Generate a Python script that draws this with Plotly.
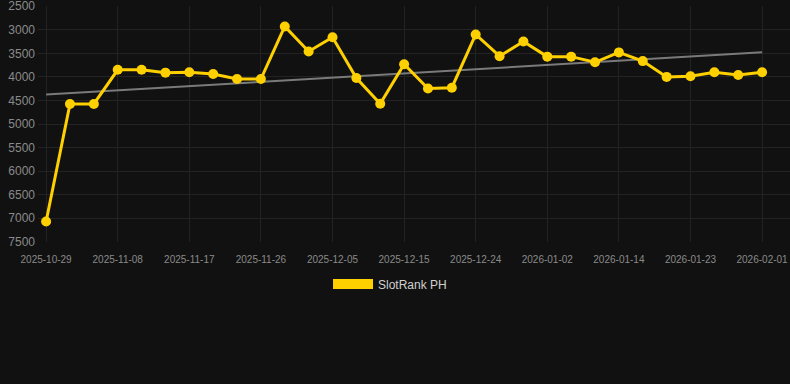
import numpy as np
import plotly.graph_objects as go

dates = ["2025-10-29", "2025-11-01", "2025-11-05", "2025-11-08", "2025-11-11", "2025-11-14",
         "2025-11-17", "2025-11-20", "2025-11-23", "2025-11-26", "2025-11-29", "2025-12-02",
         "2025-12-05", "2025-12-08", "2025-12-12", "2025-12-15", "2025-12-18", "2025-12-21",
         "2025-12-24", "2025-12-27", "2025-12-30", "2026-01-02", "2026-01-06", "2026-01-10",
         "2026-01-14", "2026-01-17", "2026-01-20", "2026-01-23", "2026-01-26", "2026-01-29",
         "2026-02-01"]
rank = [7070, 4575, 4575, 3850, 3850, 3910, 3900, 3940, 4045, 4045, 2930, 3460,
        3160, 4025, 4570, 3730, 4245, 4230, 3100, 3560, 3250, 3570, 3570, 3690,
        3480, 3665, 4000, 3985, 3900, 3960, 3900]
series_name = "SlotRank PH"
y_ticks = [2500, 3000, 3500, 4000, 4500, 5000, 5500, 6000, 6500, 7000, 7500]
x_tick_labels = dates[::3]

idx = np.arange(len(rank))
slope, intercept = np.polyfit(idx, rank, 1)
trend = intercept + slope * idx

BG = "#111111"
YELLOW = "#ffd000"

fig = go.Figure()
fig.add_trace(go.Scatter(x=dates, y=trend, mode="lines",
                         line=dict(color="#7a7a7a", width=2), showlegend=False,
                         hoverinfo="skip"))
fig.add_trace(go.Scatter(x=dates, y=rank, mode="lines+markers",
                         line=dict(color=YELLOW, width=3),
                         marker=dict(color=YELLOW, size=10),
                         showlegend=False, name=series_name))
fig.add_trace(go.Scatter(x=[None], y=[None], mode="lines",
                         line=dict(color=YELLOW, width=10), name=series_name,
                         showlegend=True))

fig.update_layout(
    width=790, height=384,
    paper_bgcolor=BG, plot_bgcolor=BG,
    margin=dict(l=38, r=0, t=6, b=142),
    font=dict(family="Liberation Sans, Arial, sans-serif", color="#8a8a8a"),
    legend=dict(orientation="h", xref="container", yref="container",
                x=0.4937, xanchor="center", y=1 - 284 / 384, yanchor="middle",
                font=dict(size=12, color="#d0d0d0"), itemwidth=40,
                bgcolor="rgba(0,0,0,0)"),
)
fig.update_xaxes(type="category", categoryorder="array", categoryarray=dates,
                 range=[-0.34, len(dates) - 1 + 1.17],
                 tickmode="array", tickvals=x_tick_labels, ticktext=x_tick_labels,
                 tickfont=dict(size=10, color="#8a8a8a"),
                 showgrid=True, gridcolor="#232323", gridwidth=1,
                 ticks="outside", ticklen=8, tickcolor=BG,
                 zeroline=False, showline=False, ticklabeloverflow="allow")
fig.update_yaxes(range=[7505, 2495], tickmode="array", tickvals=y_ticks,
                 tickfont=dict(size=12, color="#8a8a8a"),
                 showgrid=True, gridcolor="#232323", gridwidth=1,
                 zeroline=False, showline=False, ticks="", ticklabelstandoff=2,
                 ticklabeloverflow="allow")

fig.write_html("out.html", config={"displayModeBar": False},
               post_script="document.body.style.margin='0';document.body.style.background='#111111';")
